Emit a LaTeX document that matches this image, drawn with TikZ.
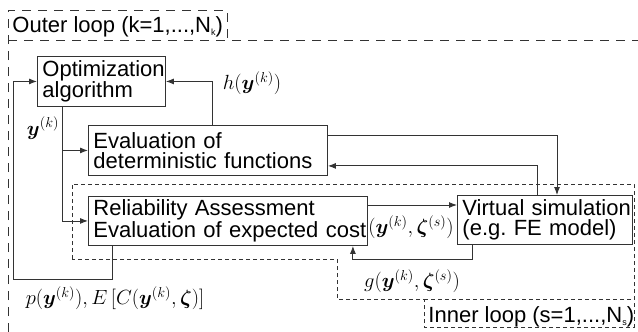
\RequirePackage{fix-cm}
\documentclass[tikz,border=0pt]{standalone}
\usepackage[no-math]{fontspec}
\usepackage{bm}
\newfontfamily\hv{Liberation Sans}
\usetikzlibrary{arrows.meta,calc}
\begin{document}
\begin{tikzpicture}[x=1pt,y=-1pt,line width=0.9pt,
  box/.style={draw=black!80, anchor=north west, inner xsep=5pt, inner ysep=0pt, align=left,
    font=\hv\fontsize{22}{19.5}\selectfont},
  arr/.style={draw=black!80,-{Latex[length=8pt,width=6pt]}},
  lbl/.style={inner sep=0pt, font=\fontsize{20.5}{22}\selectfont},
  looptext/.style={inner sep=0pt, anchor=base west, font=\hv\fontsize{22}{18}\selectfont},
  outerdash/.style={draw=black!80, line width=0.8pt, dash pattern=on 9pt off 7pt},
  innerdash/.style={draw=black!80, line width=0.8pt, dash pattern=on 4pt off 3pt}]
\useasboundingbox (0,0) rectangle (638,332);

% loops
\draw[outerdash] (8,332) -- (8,10) -- (227,10) -- (227,40);
\draw[outerdash] (8,40) -- (638,40);
\node[looptext] (outerlbl) at (12,32) {Outer loop (k=1,...,N\raisebox{-3pt}{\fontsize{9}{9}\selectfont k})};

\draw[innerdash] (72,259) -- (72,184) -- (634,184) -- (634,327) -- (424,327) -- (424,299) -- (337,299) -- (337,259) -- cycle;
\draw[innerdash] (424,299) -- (634,299);
\node[looptext] (innerlbl) at (428,322) {Inner loop (s=1,...,N\raisebox{-3pt}{\fontsize{9}{9}\selectfont s})};

% boxes
\node[box, minimum width=128pt, minimum height=50pt, text width=118pt] (opt) at (37,56) {\mbox{Optimization}\\\mbox{algorithm}};
\node[box, minimum width=239pt, minimum height=50pt, text width=229pt] (eval) at (88,125) {\mbox{Evaluation of}\\\mbox{deterministic functions}};
\node[box, minimum width=279pt, minimum height=49pt, text width=269pt] (rel) at (88,196) {\mbox{Reliability Assessment}\\\mbox{Evaluation of expected cost}};
\node[box, minimum width=175pt, minimum height=49pt, text width=165pt] (virt) at (457,195) {\mbox{Virtual simulation}\\\mbox{(e.g.\ FE model)}};

% connectors
\coordinate (ysplit) at ($(opt.south west)+(25,0)$);
\draw[arr] (ysplit) |- (eval.west);
\draw[arr] (ysplit) |- (rel.west);
\draw[arr] ($(eval.north west)+(124,0)$) |- (opt.east);
\draw[arr] ($(eval.north east)+(0,10)$) -| ($(virt.north west)+(100,0)$);
\draw[arr] ($(virt.north west)+(80,0)$) |- ($(eval.south east)+(0,-10)$);
\draw[arr] ($(rel.north east)+(0,9)$) -- ($(virt.north west)+(0,10)$);
\draw[arr] ($(virt.south west)+(15,0)$) -- ++(0,15) -| ($(rel.south east)+(-15,0)$);
\coordinate (leftrail) at (13,0);
\draw[arr] ($(rel.south west)+(24,0)$) -- ++(0,34) -| (leftrail |- opt.west) -- (opt.west);

% labels
\node[lbl] (ylbl) at (43,128) {$\bm{y}^{(k)}$};
\node[lbl] (hlbl) at (252,83) {$h(\bm{y}^{(k)})$};
\node[lbl] (yzlbl) at (411,227) {$(\bm{y}^{(k)},\bm{\zeta}^{(s)})$};
\node[lbl] (glbl) at (412,281) {$g(\bm{y}^{(k)},\bm{\zeta}^{(s)})$};
\node[lbl] (plbl) at (115,298) {$p(\bm{y}^{(k)}),E\,\bigl[C(\bm{y}^{(k)},\bm{\zeta})\bigr]$};
\end{tikzpicture}
\end{document}
